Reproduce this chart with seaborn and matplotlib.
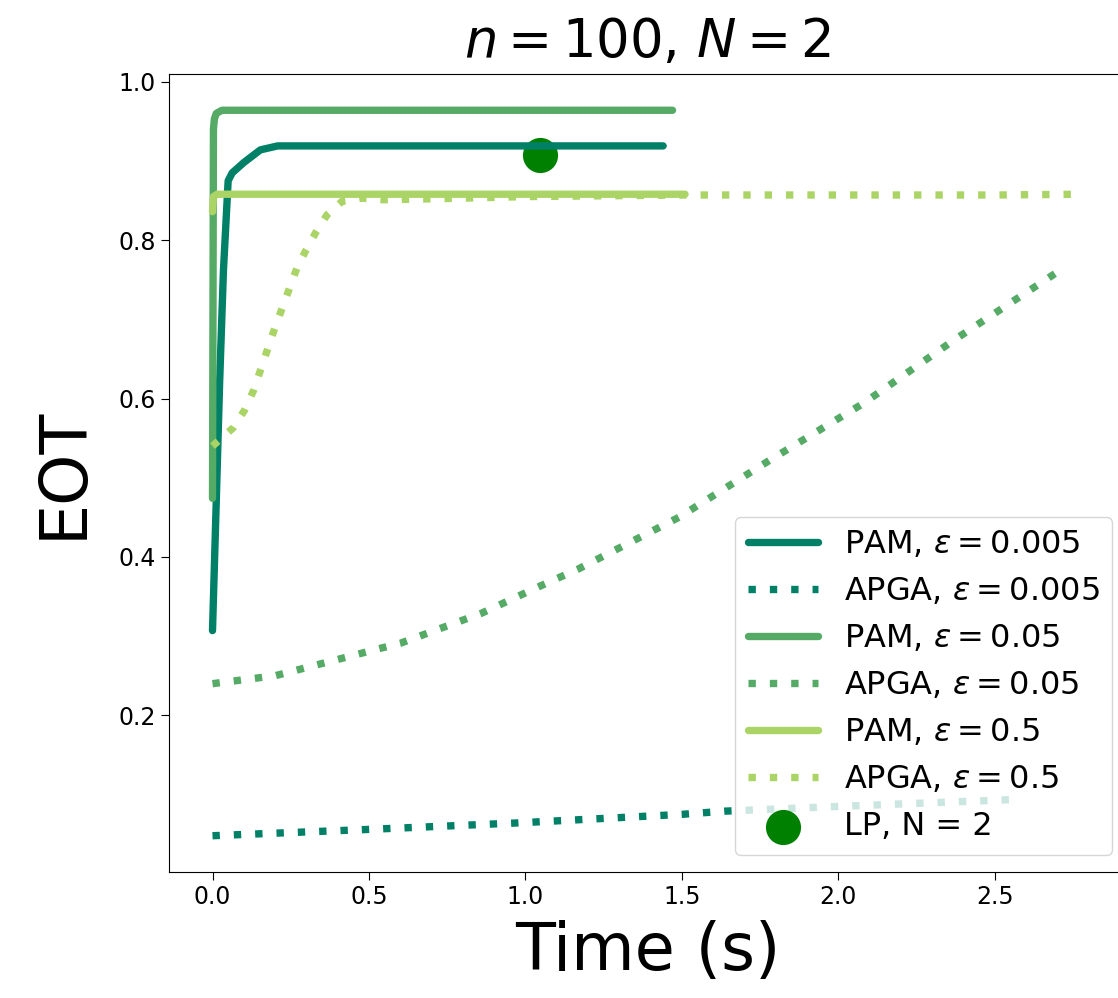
import matplotlib
matplotlib.use("Agg")
import matplotlib.pyplot as plt
import seaborn as sns

# ─── Data ────────────────────────────────────────────────────────────────────
pam_005_t   = [0.0, 0.012, 0.023, 0.035, 0.05, 0.063, 0.1, 0.153, 0.208, 0.5, 1.0, 1.44]
pam_005_eot = [0.307, 0.47, 0.623, 0.762, 0.875, 0.885, 0.898, 0.914, 0.919, 0.919, 0.919, 0.919]

apga_005_t   = [0.0, 0.5, 0.966, 1.5, 1.636, 2.0, 2.58]
apga_005_eot = [0.048, 0.056, 0.064, 0.075, 0.079, 0.085, 0.094]

pam_05_t   = [0.0, 0.003, 0.006, 0.012, 0.03, 0.5, 1.0, 1.47]
pam_05_eot = [0.474, 0.94, 0.953, 0.96, 0.964, 0.964, 0.964, 0.964]

apga_05_t   = [0.0, 0.2, 0.54, 0.6, 0.86, 1.04, 1.17, 1.49, 1.78, 2.08, 2.37, 2.72]
apga_05_eot = [0.240, 0.250, 0.285, 0.291, 0.329, 0.362, 0.385, 0.450, 0.522, 0.594, 0.674, 0.765]

pam_5_t   = [0.0, 0.003, 0.015, 0.5, 1.0, 1.51]
pam_5_eot = [0.836, 0.855, 0.858, 0.858, 0.858, 0.858]

apga_5_t   = [0.0, 0.066, 0.102, 0.131, 0.2, 0.27, 0.297, 0.329, 0.366, 0.414, 0.478,
              0.547, 0.8, 1.0, 1.5, 2.0, 2.5, 2.78]
apga_5_eot = [0.54, 0.563, 0.585, 0.61, 0.69, 0.765, 0.786, 0.809, 0.832, 0.849, 0.853,
              0.851, 0.853, 0.855, 0.857, 0.857, 0.857, 0.858]

lp_t   = [1.048]
lp_eot = [0.908]

# ─── Style ───────────────────────────────────────────────────────────────────
sns.set_style("ticks")
plt.rcParams.update({
    "font.family":      ["DejaVu Sans"],
    "mathtext.fontset": "dejavusans",
    "text.color":       "black",
    "axes.labelcolor":  "black",
    "axes.edgecolor":   "black",
    "xtick.color":      "black",
    "ytick.color":      "black",
})

cmap = plt.get_cmap("summer")
C0, C1, C2 = cmap(0.0), cmap(1 / 3), cmap(2 / 3)
LW = 5.3
DOT = (0, (1, 1.9))

fig = plt.figure(figsize=(11.18, 9.98), dpi=100)
ax = fig.add_axes([169 / 1118, 126 / 998, 957 / 1118, 798 / 998])

series = [
    (pam_005_t, pam_005_eot, C0, "-", r"PAM, $\varepsilon = 0.005$"),
    (apga_005_t, apga_005_eot, C0, DOT, r"APGA, $\varepsilon = 0.005$"),
    (pam_05_t, pam_05_eot, C1, "-", r"PAM, $\varepsilon = 0.05$"),
    (apga_05_t, apga_05_eot, C1, DOT, r"APGA, $\varepsilon = 0.05$"),
    (pam_5_t, pam_5_eot, C2, "-", r"PAM, $\varepsilon = 0.5$"),
    (apga_5_t, apga_5_eot, C2, DOT, r"APGA, $\varepsilon = 0.5$"),
]
for t, v, c, ls, lab in series:
    sns.lineplot(x=t, y=v, color=c, linewidth=LW, linestyle=ls, label=lab,
                 sort=False, estimator=None, ax=ax)

sns.scatterplot(x=lp_t, y=lp_eot, color="green", s=640, linewidth=0,
                label="LP, N = 2", ax=ax)

ax.tick_params(labelsize=17, length=6)

ax.set_title(r"$n = 100$, $N = 2$", fontsize=38, pad=12)
ax.set_xlabel("Time (s)", fontsize=47, labelpad=8)
ax.set_ylabel("EOT", fontsize=47, labelpad=16)
ax.set_yticks([0.2, 0.4, 0.6, 0.8, 1.0])
ax.set_xticks([0.0, 0.5, 1.0, 1.5, 2.0, 2.5])

ax.legend(loc="lower right", bbox_to_anchor=(1112 / 1118, 143 / 998),
          bbox_transform=fig.transFigure, borderaxespad=0, fontsize=23,
          handlelength=2.2)

plt.savefig("out.png", dpi=100)
plt.close()
